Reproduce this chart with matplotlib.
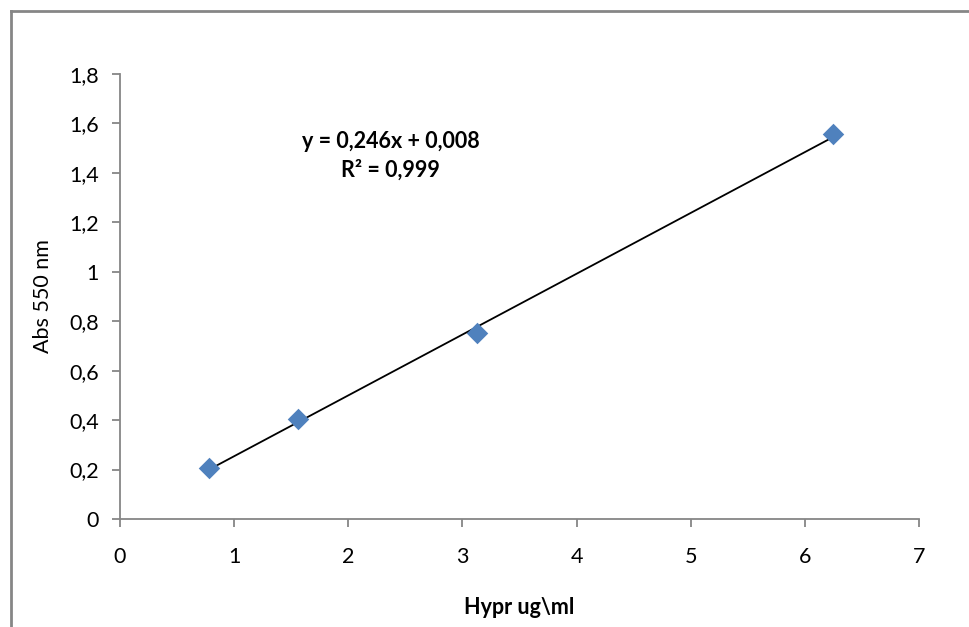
import matplotlib
matplotlib.use("Agg")
import matplotlib.pyplot as plt
import numpy as np

conc = [0.78125, 1.5625, 3.125, 6.25]
absorb = [0.208, 0.404, 0.754, 1.556]
x_ticks = [0, 1, 2, 3, 4, 5, 6, 7]
y_ticks = [0, 0.2, 0.4, 0.6, 0.8, 1.0, 1.2, 1.4, 1.6, 1.8]
y_tick_labels = ["0", "0,2", "0,4", "0,6", "0,8", "1", "1,2", "1,4", "1,6", "1,8"]
slope, intercept = 0.246, 0.008

plt.rcParams['font.family'] = ['Lato', 'DejaVu Sans']

W, H = 969, 627
fig = plt.figure(figsize=(W/100, H/100), dpi=100)
ax = fig.add_axes([120/W, 1-519/H, (919-120)/W, (519-74)/H])

gray = '#868686'
fig.add_artist(plt.Line2D([10.5/W, 10.5/W], [0, 1-10.5/H], transform=fig.transFigure, color=gray, lw=2))
fig.add_artist(plt.Line2D([10.5/W, 1], [1-10.5/H, 1-10.5/H], transform=fig.transFigure, color=gray, lw=2))

xf = np.array([conc[0], conc[-1]])
ax.plot(xf, slope*xf + intercept, color='black', lw=1.3, zorder=2)
ax.scatter(conc, absorb, marker='D', s=120, color='#4F81BD', zorder=3, linewidths=0)

ax.set_xlim(0, 7)
ax.set_ylim(0, 1.8)
ax.set_xticks(x_ticks)
ax.set_xticklabels([str(t) for t in x_ticks])
ax.set_yticks(y_ticks)
ax.set_yticklabels(y_tick_labels)
for s in ['top', 'right']:
    ax.spines[s].set_visible(False)
for s in ['left', 'bottom']:
    ax.spines[s].set_color(gray)
    ax.spines[s].set_linewidth(1.3)
ax.tick_params(axis='both', colors=gray, labelcolor='black', labelsize=15.5, length=6, width=1.3, direction='out')
ax.tick_params(axis='y', pad=9)
ax.tick_params(axis='x', pad=14)

ax.set_ylabel("Abs 550 nm", fontsize=15.5, labelpad=12)
ax.set_xlabel("Hypr ug\\ml", fontsize=15.5, fontweight='bold', labelpad=22)

ax.text(2.37, 1.47, "y = 0,246x + 0,008\nR² = 0,999", fontsize=15.5, fontweight='bold',
        ha='center', va='center', linespacing=1.45)

fig.savefig("out.png", dpi=100)
